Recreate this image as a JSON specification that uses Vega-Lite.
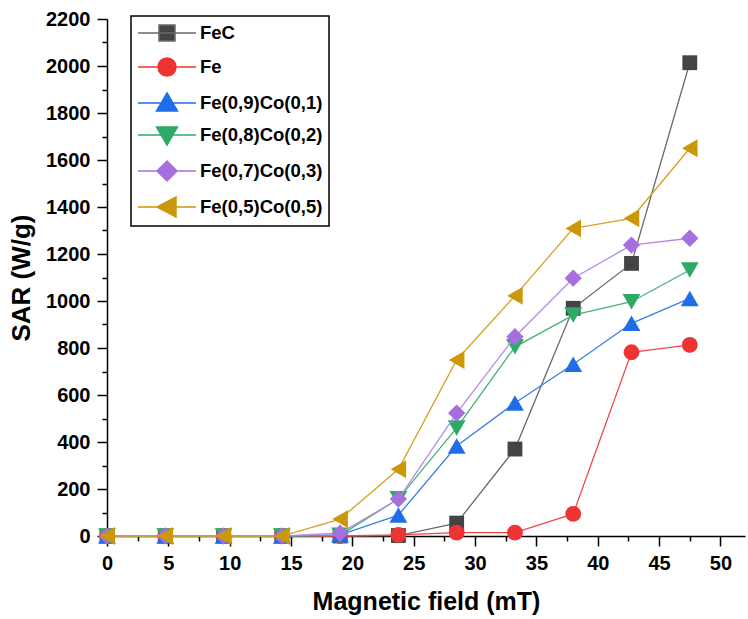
{
  "$schema": "https://vega.github.io/schema/vega-lite/v6.json",
  "width": 638,
  "height": 517,
  "autosize": {"type": "none"},
  "padding": {"left": 107, "top": 19, "right": 3, "bottom": 83},
  "background": "white",
  "config": {"view": {"stroke": null}, "font": "Liberation Sans", "legend": {"strokeWidth": 1.5}},
  "data": {
    "values": [
      {"sample": "FeC", "field": 0, "sar": 0},
      {"sample": "FeC", "field": 4.75, "sar": 0},
      {"sample": "FeC", "field": 9.5, "sar": 0},
      {"sample": "FeC", "field": 14.25, "sar": 0},
      {"sample": "FeC", "field": 19, "sar": 0},
      {"sample": "FeC", "field": 23.75, "sar": 2},
      {"sample": "FeC", "field": 28.5, "sar": 55},
      {"sample": "FeC", "field": 33.25, "sar": 370},
      {"sample": "FeC", "field": 38, "sar": 969},
      {"sample": "FeC", "field": 42.75, "sar": 1160},
      {"sample": "FeC", "field": 47.5, "sar": 2014},
      {"sample": "Fe", "field": 0, "sar": 0},
      {"sample": "Fe", "field": 4.75, "sar": 0},
      {"sample": "Fe", "field": 9.5, "sar": 0},
      {"sample": "Fe", "field": 14.25, "sar": 0},
      {"sample": "Fe", "field": 19, "sar": 0},
      {"sample": "Fe", "field": 23.75, "sar": 5},
      {"sample": "Fe", "field": 28.5, "sar": 14},
      {"sample": "Fe", "field": 33.25, "sar": 14},
      {"sample": "Fe", "field": 38, "sar": 94},
      {"sample": "Fe", "field": 42.75, "sar": 782},
      {"sample": "Fe", "field": 47.5, "sar": 813},
      {"sample": "Fe(0,9)Co(0,1)", "field": 0, "sar": 0},
      {"sample": "Fe(0,9)Co(0,1)", "field": 4.75, "sar": 0},
      {"sample": "Fe(0,9)Co(0,1)", "field": 9.5, "sar": 0},
      {"sample": "Fe(0,9)Co(0,1)", "field": 14.25, "sar": 0},
      {"sample": "Fe(0,9)Co(0,1)", "field": 19, "sar": 5},
      {"sample": "Fe(0,9)Co(0,1)", "field": 23.75, "sar": 89},
      {"sample": "Fe(0,9)Co(0,1)", "field": 28.5, "sar": 383},
      {"sample": "Fe(0,9)Co(0,1)", "field": 33.25, "sar": 566},
      {"sample": "Fe(0,9)Co(0,1)", "field": 38, "sar": 731},
      {"sample": "Fe(0,9)Co(0,1)", "field": 42.75, "sar": 905},
      {"sample": "Fe(0,9)Co(0,1)", "field": 47.5, "sar": 1011},
      {"sample": "Fe(0,8)Co(0,2)", "field": 0, "sar": 0},
      {"sample": "Fe(0,8)Co(0,2)", "field": 4.75, "sar": 0},
      {"sample": "Fe(0,8)Co(0,2)", "field": 9.5, "sar": 0},
      {"sample": "Fe(0,8)Co(0,2)", "field": 14.25, "sar": 0},
      {"sample": "Fe(0,8)Co(0,2)", "field": 19, "sar": 3},
      {"sample": "Fe(0,8)Co(0,2)", "field": 23.75, "sar": 158},
      {"sample": "Fe(0,8)Co(0,2)", "field": 28.5, "sar": 460},
      {"sample": "Fe(0,8)Co(0,2)", "field": 33.25, "sar": 805},
      {"sample": "Fe(0,8)Co(0,2)", "field": 38, "sar": 940},
      {"sample": "Fe(0,8)Co(0,2)", "field": 42.75, "sar": 997},
      {"sample": "Fe(0,8)Co(0,2)", "field": 47.5, "sar": 1132},
      {"sample": "Fe(0,7)Co(0,3)", "field": 0, "sar": 0},
      {"sample": "Fe(0,7)Co(0,3)", "field": 4.75, "sar": 0},
      {"sample": "Fe(0,7)Co(0,3)", "field": 9.5, "sar": 0},
      {"sample": "Fe(0,7)Co(0,3)", "field": 14.25, "sar": 0},
      {"sample": "Fe(0,7)Co(0,3)", "field": 19, "sar": 12},
      {"sample": "Fe(0,7)Co(0,3)", "field": 23.75, "sar": 157},
      {"sample": "Fe(0,7)Co(0,3)", "field": 28.5, "sar": 523},
      {"sample": "Fe(0,7)Co(0,3)", "field": 33.25, "sar": 848},
      {"sample": "Fe(0,7)Co(0,3)", "field": 38, "sar": 1097},
      {"sample": "Fe(0,7)Co(0,3)", "field": 42.75, "sar": 1238},
      {"sample": "Fe(0,7)Co(0,3)", "field": 47.5, "sar": 1267},
      {"sample": "Fe(0,5)Co(0,5)", "field": 0, "sar": 0},
      {"sample": "Fe(0,5)Co(0,5)", "field": 4.75, "sar": 0},
      {"sample": "Fe(0,5)Co(0,5)", "field": 9.5, "sar": 0},
      {"sample": "Fe(0,5)Co(0,5)", "field": 14.25, "sar": 0},
      {"sample": "Fe(0,5)Co(0,5)", "field": 19, "sar": 72},
      {"sample": "Fe(0,5)Co(0,5)", "field": 23.75, "sar": 284},
      {"sample": "Fe(0,5)Co(0,5)", "field": 28.5, "sar": 749},
      {"sample": "Fe(0,5)Co(0,5)", "field": 33.25, "sar": 1022},
      {"sample": "Fe(0,5)Co(0,5)", "field": 38, "sar": 1309},
      {"sample": "Fe(0,5)Co(0,5)", "field": 42.75, "sar": 1352},
      {"sample": "Fe(0,5)Co(0,5)", "field": 47.5, "sar": 1650}
    ]
  },
  "encoding": {
    "x": {
      "field": "field",
      "type": "quantitative",
      "scale": {"domain": [0, 52], "nice": false, "zero": false},
      "axis": {
        "title": "Magnetic field (mT)",
        "values": [0, 2.5, 5, 7.5, 10, 12.5, 15, 17.5, 20, 22.5, 25, 27.5, 30, 32.5, 35, 37.5, 40, 42.5, 45, 47.5, 50],
        "labelExpr": "datum.value % 5 === 0 ? datum.label : ''",
        "grid": false,
        "domainColor": "black",
        "domainWidth": 1.5,
        "tickColor": "black",
        "tickWidth": 1.5,
        "tickSize": {"condition": {"test": "datum.value % 5 === 0", "value": 10}, "value": 5},
        "labelFont": "Liberation Sans",
        "labelFontWeight": "bold",
        "labelFontSize": 20,
        "labelColor": "black",
        "labelPadding": 7,
        "labelFlush": false,
        "labelOverlap": false,
        "titleFont": "Liberation Sans",
        "titleFontWeight": "bold",
        "titleFontSize": 25,
        "titleColor": "black",
        "titlePadding": 16
      }
    },
    "y": {
      "field": "sar",
      "type": "quantitative",
      "scale": {"domain": [0, 2200], "nice": false},
      "axis": {
        "title": "SAR (W/g)",
        "values": [0, 100, 200, 300, 400, 500, 600, 700, 800, 900, 1000, 1100, 1200, 1300, 1400, 1500, 1600, 1700, 1800, 1900, 2000, 2100, 2200],
        "format": "d",
        "labelExpr": "datum.value % 200 === 0 ? datum.label : ''",
        "grid": false,
        "domainColor": "black",
        "domainWidth": 1.5,
        "tickColor": "black",
        "tickWidth": 1.5,
        "tickSize": {"condition": {"test": "datum.value % 200 === 0", "value": 10}, "value": 5},
        "labelFont": "Liberation Sans",
        "labelFontWeight": "bold",
        "labelFontSize": 20,
        "labelColor": "black",
        "labelPadding": 7,
        "labelFlush": false,
        "labelOverlap": false,
        "titleFont": "Liberation Sans",
        "titleFontWeight": "bold",
        "titleFontSize": 26,
        "titleColor": "black",
        "titlePadding": 11
      }
    }
  },
  "layer": [
    {
      "transform": [{"filter": "datum.sample === 'FeC'"}],
      "layer": [
        {"mark": {"type": "line", "color": "#6a6a6a", "strokeWidth": 1.3}},
        {"mark": {"type": "point", "filled": true, "shape": "square", "size": 220, "color": "#444444", "opacity": 1}}
      ]
    },
    {
      "transform": [{"filter": "datum.sample === 'Fe'"}],
      "layer": [
        {"mark": {"type": "line", "color": "#f04848", "strokeWidth": 1.3}},
        {"mark": {"type": "point", "filled": true, "shape": "circle", "size": 250, "color": "#ee3333", "opacity": 1}}
      ]
    },
    {
      "transform": [{"filter": "datum.sample === 'Fe(0,9)Co(0,1)'"}],
      "layer": [
        {"mark": {"type": "line", "color": "#3a7ee8", "strokeWidth": 1.3}},
        {"mark": {"type": "point", "filled": true, "shape": "triangle-up", "size": 320, "color": "#1f6ee8", "opacity": 1}}
      ]
    },
    {
      "transform": [{"filter": "datum.sample === 'Fe(0,8)Co(0,2)'"}],
      "layer": [
        {"mark": {"type": "line", "color": "#45b276", "strokeWidth": 1.3}},
        {"mark": {"type": "point", "filled": true, "shape": "triangle-down", "size": 320, "color": "#2daa66", "opacity": 1}}
      ]
    },
    {
      "transform": [{"filter": "datum.sample === 'Fe(0,7)Co(0,3)'"}],
      "layer": [
        {"mark": {"type": "line", "color": "#b58ae6", "strokeWidth": 1.3}},
        {"mark": {"type": "point", "filled": true, "shape": "diamond", "size": 300, "color": "#a66fe0", "opacity": 1}}
      ]
    },
    {
      "transform": [{"filter": "datum.sample === 'Fe(0,5)Co(0,5)'"}],
      "layer": [
        {"mark": {"type": "line", "color": "#d2a325", "strokeWidth": 1.3}},
        {"mark": {"type": "point", "filled": true, "shape": "triangle-left", "size": 320, "color": "#cc9708", "opacity": 1}}
      ]
    },
    {
      "transform": [{"filter": "datum.sar < 0"}],
      "mark": {"type": "point", "filled": true, "opacity": 1, "size": 400, "strokeWidth": 1.5},
      "encoding": {
        "color": {
          "field": "sample",
          "type": "nominal",
          "sort": null,
          "scale": {
            "domain": ["FeC", "Fe", "Fe(0,9)Co(0,1)", "Fe(0,8)Co(0,2)", "Fe(0,7)Co(0,3)", "Fe(0,5)Co(0,5)"],
            "range": ["#444444", "#ee3333", "#1f6ee8", "#2daa66", "#a66fe0", "#cc9708"]
          },
          "legend": {
            "title": null, "orient": "none", "legendX": 24, "legendY": -3, "padding": 6, "rowPadding": 10,
            "strokeColor": "black", "fillColor": "white", "symbolSize": 400, "symbolStrokeWidth": 1.5,
            "labelOffset": 41, "labelFont": "Liberation Sans", "labelFontWeight": "bold", "labelFontSize": 18.5,
            "labelColor": "black", "labelLimit": 300
          }
        },
        "stroke": {
          "field": "sample",
          "type": "nominal",
          "sort": null,
          "scale": {
            "domain": ["FeC", "Fe", "Fe(0,9)Co(0,1)", "Fe(0,8)Co(0,2)", "Fe(0,7)Co(0,3)", "Fe(0,5)Co(0,5)"],
            "range": ["#6a6a6a", "#ee3333", "#1f6ee8", "#2daa66", "#a66fe0", "#cc9708"]
          },
          "legend": {
            "title": null, "orient": "none", "legendX": 24, "legendY": -3, "padding": 6, "rowPadding": 10,
            "strokeColor": "black", "fillColor": "white", "symbolSize": 400, "symbolStrokeWidth": 1.5,
            "labelOffset": 41, "labelFont": "Liberation Sans", "labelFontWeight": "bold", "labelFontSize": 18.5,
            "labelColor": "black", "labelLimit": 300
          }
        },
        "shape": {
          "field": "sample",
          "type": "nominal",
          "sort": null,
          "scale": {
            "domain": ["FeC", "Fe", "Fe(0,9)Co(0,1)", "Fe(0,8)Co(0,2)", "Fe(0,7)Co(0,3)", "Fe(0,5)Co(0,5)"],
            "range": [
              "M-1,0H4.8M1.1,-0.8H2.7V0.8H1.1Z",
              "M-1,0H4.8M1.0,0A0.9,0.9 0 1,0 2.8,0A0.9,0.9 0 1,0 1.0,0Z",
              "M-1,0H4.8M1.9,-1L2.95,0.8H0.85Z",
              "M-1,0H4.8M1.9,1L2.95,-0.8H0.85Z",
              "M-1,0H4.8M1.9,-1L2.9,0L1.9,1L0.9,0Z",
              "M-1,0H4.8M0.9,0L2.8,-1V1Z"
            ]
          },
          "legend": {
            "title": null, "orient": "none", "legendX": 24, "legendY": -3, "padding": 6, "rowPadding": 10,
            "strokeColor": "black", "fillColor": "white", "symbolSize": 400, "symbolStrokeWidth": 1.5,
            "labelOffset": 41, "labelFont": "Liberation Sans", "labelFontWeight": "bold", "labelFontSize": 18.5,
            "labelColor": "black", "labelLimit": 300
          }
        }
      }
    }
  ]
}
